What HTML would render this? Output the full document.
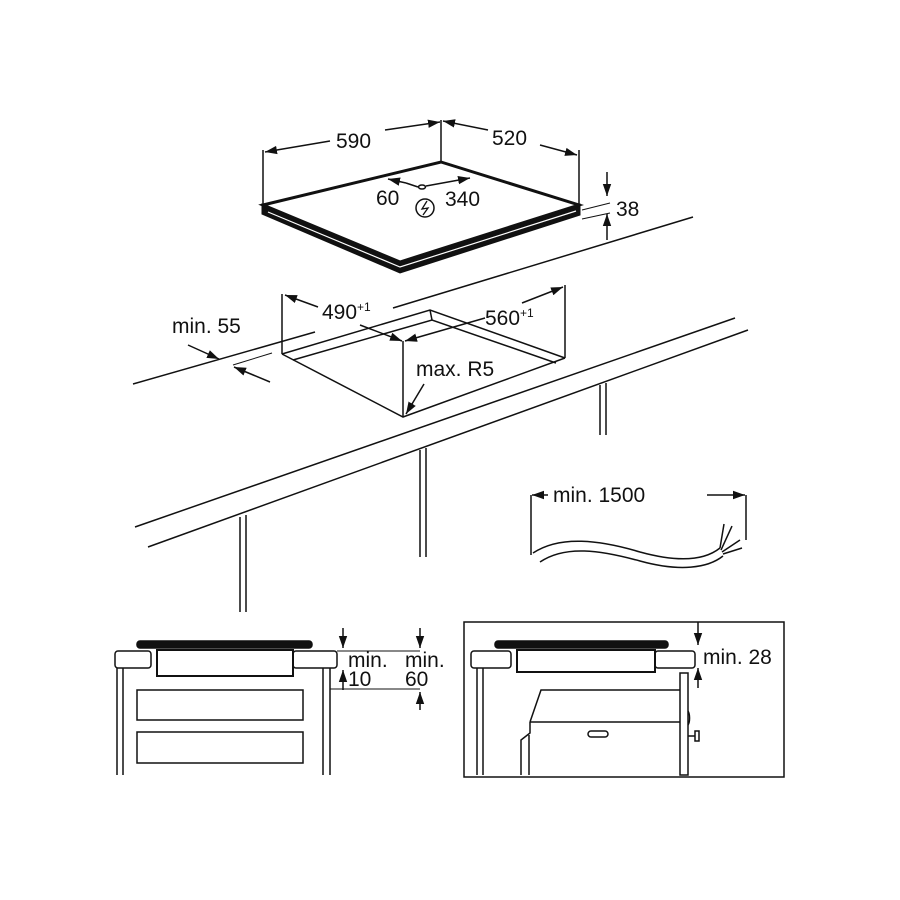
<!DOCTYPE html>
<html><head><style>
html,body{margin:0;padding:0;background:#fff;}
svg{display:block;}
text{font-family:"Liberation Sans",sans-serif;fill:#111;}
</style></head><body>
<svg width="900" height="900" viewBox="0 0 900 900" xmlns="http://www.w3.org/2000/svg">
<defs>
<marker id="a" viewBox="0 0 10 10" refX="10" refY="5" markerWidth="12" markerHeight="12" orient="auto-start-reverse" markerUnits="userSpaceOnUse">
<path d="M0,1.5 L10,5 L0,8.5 z" fill="#111"/></marker>
</defs>
<g stroke="#111" fill="none" stroke-width="1.5">
<!-- Hob top view -->
<path d="M262,204 L262,214 L400,273 L580,215 L580,204 L400,262 Z" fill="#111" stroke="#111" stroke-width="1"/>
<path d="M268,212 L400,267 L576,211" stroke="#fff" stroke-width="1.2"/>
<polygon points="263,205 441,162 579,205 400,262" fill="#fff" stroke-width="3"/>
<line x1="263" y1="205" x2="263" y2="150"/>
<line x1="441" y1="162" x2="441" y2="120"/>
<line x1="579" y1="205" x2="579" y2="150"/>
<line x1="385" y1="130" x2="440" y2="122" marker-end="url(#a)"/>
<line x1="330" y1="141" x2="265" y2="152" marker-end="url(#a)"/>
<line x1="488" y1="130" x2="443" y2="121" marker-end="url(#a)"/>
<line x1="540" y1="145" x2="577" y2="155" marker-end="url(#a)"/>
<line x1="406" y1="183" x2="388" y2="179" marker-end="url(#a)"/>
<line x1="406" y1="183" x2="418" y2="187"/>
<line x1="426" y1="186" x2="470" y2="178" marker-end="url(#a)"/>
<ellipse cx="422" cy="187" rx="3.5" ry="2"/>
<circle cx="425" cy="208" r="9"/>
<path d="M427,201 L422,209 L428,208 L423,215" stroke-width="1.3"/>
<!-- 38 -->
<line x1="607" y1="172" x2="607" y2="196" marker-end="url(#a)"/>
<line x1="607" y1="240" x2="607" y2="214" marker-end="url(#a)"/>
<line x1="582" y1="210" x2="610" y2="203" stroke-width="1"/>
<line x1="582" y1="219" x2="610" y2="213" stroke-width="1"/>
<!-- counter -->
<line x1="133" y1="384" x2="315" y2="332"/>
<line x1="393" y1="308" x2="693" y2="217"/>
<line x1="135" y1="527" x2="735" y2="318"/>
<line x1="148" y1="547" x2="748" y2="330"/>
<line x1="240" y1="517" x2="240" y2="612"/><line x1="246" y1="515" x2="246" y2="612"/>
<line x1="420" y1="450" x2="420" y2="557"/><line x1="426" y1="448" x2="426" y2="557"/>
<line x1="600" y1="385" x2="600" y2="435"/><line x1="606" y1="383" x2="606" y2="435"/>
<!-- cutout -->
<polyline points="282,354 430,310 565,358"/>
<polyline points="293,360 432,320 556,363"/>
<line x1="430" y1="310" x2="432" y2="320"/>
<polyline points="282,354 403,417 565,358"/>
<line x1="403" y1="341" x2="403" y2="417"/>
<line x1="282" y1="294" x2="282" y2="354"/>
<line x1="565" y1="285" x2="565" y2="358"/>
<line x1="318" y1="307" x2="285" y2="295" marker-end="url(#a)"/>
<line x1="360" y1="325" x2="402" y2="341" marker-end="url(#a)"/>
<line x1="485" y1="318" x2="405" y2="341" marker-end="url(#a)"/>
<line x1="522" y1="303" x2="563" y2="287" marker-end="url(#a)"/>
<line x1="424" y1="384" x2="406" y2="414" marker-end="url(#a)"/>
<!-- min 55 -->
<line x1="233" y1="365" x2="272" y2="353" stroke-width="1"/>
<line x1="188" y1="345" x2="219" y2="359" marker-end="url(#a)"/>
<line x1="270" y1="382" x2="234" y2="367" marker-end="url(#a)"/>
<!-- cable -->
<line x1="531" y1="495" x2="531" y2="555"/>
<line x1="746" y1="495" x2="746" y2="540"/>
<line x1="548" y1="495" x2="532" y2="495" marker-end="url(#a)"/>
<line x1="707" y1="495" x2="745" y2="495" marker-end="url(#a)"/>
<path d="M533,553 C560,535 600,540 640,552 C680,563 705,560 720,548"/>
<path d="M540,562 C565,545 600,550 640,561 C680,572 708,568 723,556"/>
<path d="M720,548 L724,524 M721,550 L732,526 M722,552 L740,540 M723,554 L742,548"/>
<!-- bottom left -->
<rect x="137" y="641" width="175" height="7" rx="3" fill="#111"/>
<rect x="115" y="651" width="36" height="17" rx="3"/>
<rect x="293" y="651" width="44" height="17" rx="3"/>
<rect x="157" y="650" width="136" height="26" stroke-width="2"/>
<line x1="117" y1="668" x2="117" y2="775"/><line x1="123" y1="668" x2="123" y2="775"/>
<line x1="323" y1="668" x2="323" y2="775"/><line x1="330" y1="668" x2="330" y2="775"/>
<rect x="137" y="690" width="166" height="30"/>
<rect x="137" y="732" width="166" height="31"/>
<line x1="337" y1="651" x2="420" y2="651" stroke-width="1"/>
<line x1="330" y1="689" x2="420" y2="689" stroke-width="1"/>
<line x1="343" y1="628" x2="343" y2="648" marker-end="url(#a)"/>
<line x1="343" y1="690" x2="343" y2="670" marker-end="url(#a)"/>
<line x1="420" y1="628" x2="420" y2="648" marker-end="url(#a)"/>
<line x1="420" y1="710" x2="420" y2="692" marker-end="url(#a)"/>
<!-- bottom right -->
<rect x="464" y="622" width="320" height="155"/>
<rect x="495" y="641" width="173" height="7" rx="3" fill="#111"/>
<rect x="471" y="651" width="40" height="17" rx="3"/>
<rect x="655" y="651" width="40" height="17" rx="3"/>
<rect x="517" y="650" width="138" height="22" stroke-width="2"/>
<line x1="477" y1="668" x2="477" y2="775"/><line x1="483" y1="668" x2="483" y2="775"/>
<rect x="680" y="673" width="8" height="102"/>
<path d="M688,725 a3,8 0 0,0 0,-14"/>
<polyline points="680,690 541,690 530,722"/>
<line x1="530" y1="722" x2="680" y2="722"/>
<polyline points="530,722 530,733 521,740 521,775"/>
<line x1="529" y1="735" x2="529" y2="775"/>
<rect x="588" y="731" width="20" height="6" rx="3"/>
<line x1="688" y1="736" x2="695" y2="736"/>
<rect x="695" y="731" width="4" height="10"/>
<line x1="698" y1="622" x2="698" y2="645" marker-end="url(#a)"/>
<line x1="698" y1="688" x2="698" y2="668" marker-end="url(#a)"/>
</g>
<g font-size="21">
<text x="336" y="148">590</text>
<text x="492" y="145">520</text>
<text x="376" y="205">60</text>
<text x="445" y="206">340</text>
<text x="616" y="216">38</text>
<text x="322" y="319">490<tspan font-size="12" dy="-8">+1</tspan></text>
<text x="485" y="325">560<tspan font-size="12" dy="-8">+1</tspan></text>
<text x="172" y="333">min. 55</text>
<text x="416" y="376">max. R5</text>
<text x="553" y="502">min. 1500</text>
<text x="348" y="667">min.</text>
<text x="348" y="686">10</text>
<text x="405" y="667">min.</text>
<text x="405" y="686">60</text>
<text x="703" y="664">min. 28</text>
</g>
</svg>
</body></html>
